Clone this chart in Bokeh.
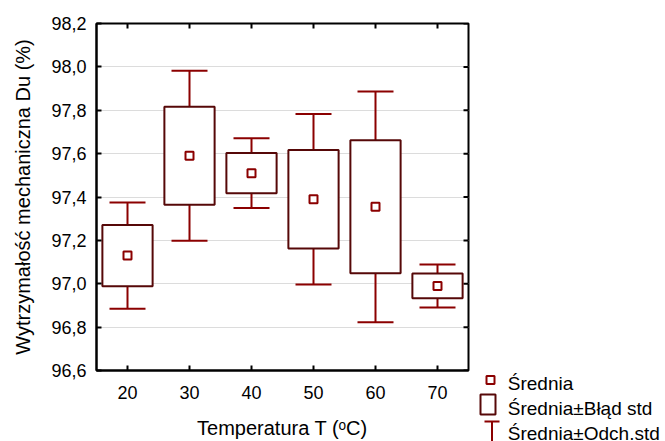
from bokeh.plotting import figure
from bokeh.models import (Range1d, FactorRange, FixedTicker, Whisker, TeeHead,
                          ColumnDataSource)
from bokeh.layouts import row
from bokeh.core.properties import value
from bokeh.embed import file_html
from bokeh.resources import INLINE

# ---- data ----
categories = ["20", "30", "40", "50", "60", "70"]
mean_vals = [97.13, 97.59, 97.51, 97.39, 97.355, 96.99]
se_vals = [0.141, 0.226, 0.093, 0.227, 0.307, 0.057]
sd_vals = [0.245, 0.392, 0.161, 0.393, 0.532, 0.099]
y_ticks = [96.6, 96.8, 97.0, 97.2, 97.4, 97.6, 97.8, 98.0, 98.2]
y_tick_labels = ["96,6", "96,8", "97,0", "97,2", "97,4", "97,6", "97,8", "98,0", "98,2"]
legend_labels = ["Średnia", "Średnia±Błąd std", "Średnia±Odch.std"]

FONT = "Liberation Sans"
BOX_COLOR = "#560808"
WHISK_COLOR = "#8b0000"
MEAN_COLOR = "#8b0000"

H = 441
FRAME_W, FRAME_H = 372, 347
TICK_PX = 5

src = ColumnDataSource(dict(
    cat=categories,
    mean=mean_vals,
    se_lo=[m - s for m, s in zip(mean_vals, se_vals)],
    se_hi=[m + s for m, s in zip(mean_vals, se_vals)],
    sd_lo=[m - s for m, s in zip(mean_vals, sd_vals)],
    sd_hi=[m + s for m, s in zip(mean_vals, sd_vals)],
))

y_min, y_max = y_ticks[0], y_ticks[-1]
p = figure(x_range=FactorRange(*categories), y_range=Range1d(y_min, y_max),
           width=476, height=H,
           min_border_left=96, min_border_right=476 - 96 - FRAME_W,
           min_border_top=23, min_border_bottom=H - 23 - FRAME_H,
           output_backend="svg", toolbar_location=None, tools="")
p.outline_line_color = "black"
p.outline_line_width = 2
p.background_fill_color = "white"
p.border_fill_color = "white"

ticker = FixedTicker(ticks=y_ticks, minor_ticks=[])

p.xgrid.visible = False
p.ygrid.ticker = ticker
p.ygrid.grid_line_color = "#dcdcdc"
p.ygrid.grid_line_width = 1

yax = p.yaxis[0]
yax.ticker = ticker
yax.major_label_overrides = {t: l for t, l in zip(y_ticks, y_tick_labels)}
yax.axis_label = "Wytrzymałość mechaniczna Du (%)"

xax = p.xaxis[0]
xax.axis_label = "Temperatura T (ᵒC)"

for ax in (xax, yax):
    ax.major_tick_in = TICK_PX
    ax.major_tick_out = 0
    ax.minor_tick_line_color = None
    ax.major_tick_line_width = 2
    ax.major_tick_line_color = "black"
    ax.axis_line_color = "black"
    ax.axis_line_width = 2
    ax.major_label_text_font = FONT
    ax.major_label_text_font_size = "18px"
    ax.major_label_text_color = "black"
    ax.axis_label_text_font = FONT
    ax.axis_label_text_font_size = "20px"
    ax.axis_label_text_font_style = "normal"
    ax.axis_label_text_color = "black"
yax.major_label_standoff = 10
yax.axis_label_standoff = 14
xax.major_label_standoff = 15
xax.axis_label_standoff = 15

# inward ticks on the top and right frame edges
dy = (y_max - y_min) / FRAME_H * TICK_PX
dx = len(categories) / FRAME_W * TICK_PX
p.segment(x0=categories, y0=[y_max] * len(categories),
          x1=categories, y1=[y_max - dy] * len(categories),
          line_color="black", line_width=2)
p.segment(x0=[len(categories)] * len(y_ticks), y0=y_ticks,
          x1=[len(categories) - dx] * len(y_ticks), y1=y_ticks,
          line_color="black", line_width=2)

# whiskers (std dev)
up = Whisker(source=src, base="cat", lower="se_hi", upper="sd_hi",
             line_color=WHISK_COLOR, line_width=2,
             upper_head=TeeHead(size=36, line_color=WHISK_COLOR, line_width=2),
             lower_head=None)
lo = Whisker(source=src, base="cat", lower="sd_lo", upper="se_lo",
             line_color=WHISK_COLOR, line_width=2,
             lower_head=TeeHead(size=36, line_color=WHISK_COLOR, line_width=2),
             upper_head=None)
p.add_layout(up)
p.add_layout(lo)

# boxes (std error)
p.vbar(x="cat", top="se_hi", bottom="se_lo", width=0.81, source=src,
       fill_color="white", line_color=BOX_COLOR, line_width=2)

# means
p.scatter(x="cat", y="mean", source=src, marker="square", size=8,
          fill_color="white", line_color=MEAN_COLOR, line_width=2)

# ---- legend panel (pixel coordinates, y downwards) ----
LW = 189
lp = figure(width=LW, height=H, x_range=Range1d(0, LW), y_range=Range1d(H, 0),
            min_border=0, toolbar_location=None, tools="", output_backend="svg",
            x_axis_location=None, y_axis_location=None)
lp.outline_line_color = None
lp.background_fill_color = "white"
lp.border_fill_color = "white"
for g in lp.grid:
    g.visible = False
for fig in (p, lp):
    try:
        fig.frame_align = False
    except Exception:
        pass

lp.scatter(x=[14], y=[379.5], marker="square", size=8, fill_color="white",
           line_color=MEAN_COLOR, line_width=2)
lp.quad(left=[4], right=[19], top=[394], bottom=[414], fill_color="white",
        line_color=BOX_COLOR, line_width=2)
lp.segment(x0=[8, 15.5], y0=[421, 421], x1=[23, 15.5], y1=[421, 442],
           line_color=WHISK_COLOR, line_width=2)
lp.text(x=[31.3] * 3, y=[383, 408, 432.5], text=legend_labels,
        text_font=value(FONT), text_font_size="19px", text_baseline="alphabetic",
        text_color="black")

layout = row(p, lp)
open("out.html", "w").write(file_html(layout, INLINE))
